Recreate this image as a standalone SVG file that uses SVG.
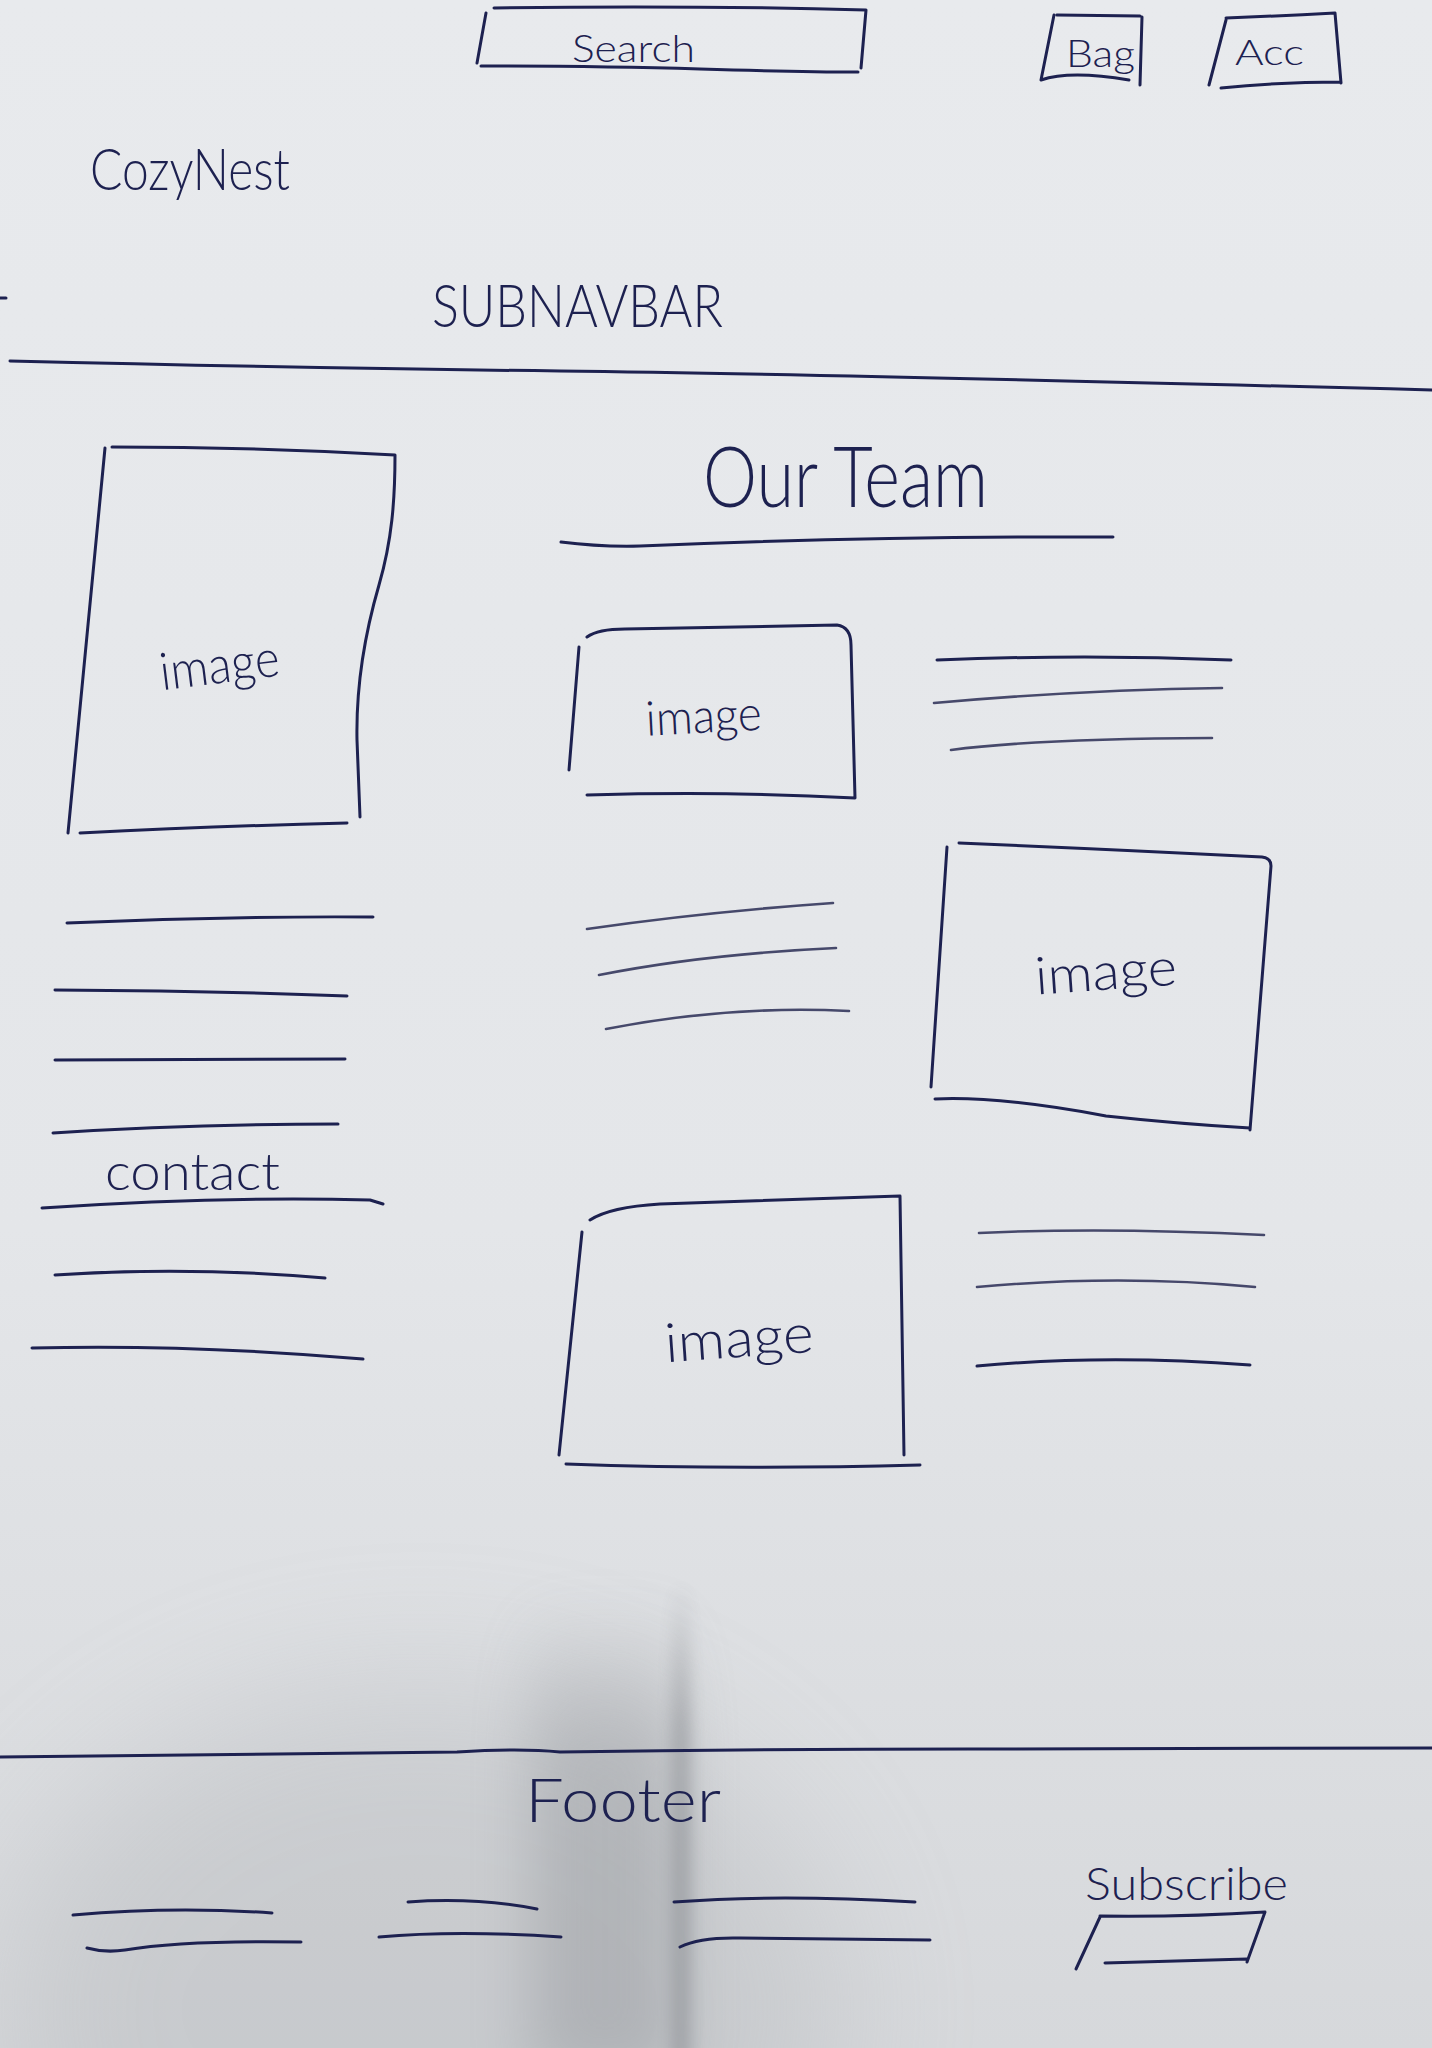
<svg xmlns="http://www.w3.org/2000/svg" width="1432" height="2048" viewBox="0 0 1432 2048">
  <defs>
    <style>
      .ink { fill: none; stroke: #1d2150; stroke-width: 3; stroke-linecap: round; stroke-linejoin: round; }
      .soft { stroke: #2a2d55; stroke-width: 2.6; opacity: 0.85; }
      .hand { font-family: Lato, "Liberation Sans", "DejaVu Sans", sans-serif; font-weight: 300; fill: #1d2150; }
    </style>
    <filter id="haze" x="-50%" y="-50%" width="200%" height="200%">
      <feGaussianBlur stdDeviation="70"/>
    </filter>
    <filter id="shade" x="-60%" y="-20%" width="220%" height="140%">
      <feGaussianBlur stdDeviation="30"/>
    </filter>
    <filter id="crease" x="-200%" y="-10%" width="500%" height="120%">
      <feGaussianBlur stdDeviation="8"/>
    </filter>
    <linearGradient id="paper" x1="0" y1="0" x2="0" y2="1">
      <stop offset="0" stop-color="#e8eaed"/>
      <stop offset="0.6" stop-color="#e4e6e9"/>
      <stop offset="1" stop-color="#d6d8db"/>
    </linearGradient>
    <linearGradient id="fade-in" x1="0" y1="0" x2="0" y2="1">
      <stop offset="0" stop-color="#7c7f84" stop-opacity="0"/>
      <stop offset="0.3" stop-color="#7c7f84" stop-opacity="1"/>
      <stop offset="1" stop-color="#7c7f84" stop-opacity="1"/>
    </linearGradient>
  </defs>

  <!-- paper -->
  <rect width="1432" height="2048" fill="url(#paper)"/>
  <!-- fold shadow near the bottom of the sheet -->
  <ellipse cx="420" cy="2010" rx="420" ry="330" fill="#a4a7ab" opacity="0.28" filter="url(#haze)"/>
  <rect x="530" y="1600" width="150" height="480" fill="url(#fade-in)" opacity="0.3" filter="url(#shade)"/>
  <rect x="672" y="1580" width="18" height="490" fill="url(#fade-in)" opacity="0.45" filter="url(#crease)"/>

  <!-- header: search field -->
  <g id="search">
    <path class="ink" d="M494,8 Q680,5 866,10 M486,13 L477,63 M481,66 Q600,66 700,69 T858,72 M866,10 L861,68"/>
    <text class="hand" x="572" y="62" font-size="38" textLength="123" lengthAdjust="spacingAndGlyphs">Search</text>
  </g>

  <!-- header: bag button -->
  <g id="bag">
    <path class="ink" d="M1057,15 L1140,16 M1054,15 L1041,80 M1041,80 Q1070,70 1129,80 M1142,17 L1140,85"/>
    <text class="hand" x="1066" y="67" font-size="38" textLength="69" lengthAdjust="spacingAndGlyphs">Bag</text>
  </g>

  <!-- header: account button -->
  <g id="account">
    <path class="ink" d="M1226,18 Q1280,16 1335,13 L1341,83 M1226,20 L1209,85 M1221,88 Q1280,82 1341,82"/>
    <text class="hand" x="1235" y="65" font-size="36" textLength="69" lengthAdjust="spacingAndGlyphs">Acc</text>
  </g>

  <!-- logo -->
  <g id="logo">
    <text class="hand" x="90" y="190" font-size="58" textLength="200" lengthAdjust="spacingAndGlyphs">CozyNest</text>
  </g>

  <!-- sub navigation -->
  <g id="subnavbar">
    <text class="hand" x="432" y="327" font-size="60" textLength="291" lengthAdjust="spacingAndGlyphs">SUBNAVBAR</text>
  </g>

  <!-- dividers -->
  <g id="dividers">
    <path class="ink" d="M0,298 L6,298"/>
    <path class="ink" d="M10,361 Q300,368 560,371 T1432,390"/>
    <path class="ink" d="M0,1757 Q230,1754 457,1752 Q520,1748 560,1752 Q760,1749 968,1749 T1432,1748"/>
  </g>

  <!-- left column: large image -->
  <g id="hero-image">
    <path class="ink" d="M112,447 Q250,447 395,455 C395,500 392,540 379,585 C363,640 356,690 357,740 L360,817 M105,448 L68,833 M80,833 Q220,826 347,823"/>
    <text class="hand" x="160" y="683" font-size="52" textLength="120" lengthAdjust="spacingAndGlyphs" transform="rotate(-7 220 670)">image</text>
  </g>

  <!-- left column: text lines -->
  <g id="left-text">
    <path class="ink" d="M67,923 Q220,916 373,917"/>
    <path class="ink" d="M55,990 Q220,991 347,996"/>
    <path class="ink" d="M55,1060 L345,1059"/>
    <path class="ink" d="M53,1133 Q187,1124 338,1124"/>
  </g>

  <!-- left column: contact -->
  <g id="contact">
    <text class="hand" x="105" y="1190" font-size="52" textLength="175" lengthAdjust="spacingAndGlyphs">contact</text>
    <path class="ink" d="M42,1208 Q220,1196 370,1200 L383,1204"/>
    <path class="ink" d="M55,1275 Q187,1266 325,1278"/>
    <path class="ink" d="M32,1348 Q187,1344 363,1359"/>
  </g>

  <!-- team section title -->
  <g id="team-title">
    <text class="hand" x="703" y="507" font-size="84" textLength="285" lengthAdjust="spacingAndGlyphs">Our Team</text>
    <path class="ink" d="M561,542 Q600,547 640,546 Q870,536 1113,537"/>
  </g>

  <!-- team member 1 -->
  <g id="member-1-image">
    <path class="ink" d="M587,637 Q598,629 625,629 L837,625 Q851,627 851,645 L855,798 M579,647 L569,770 M587,795 Q729,791 855,798"/>
    <text class="hand" x="646" y="733" font-size="48" textLength="116" lengthAdjust="spacingAndGlyphs" transform="rotate(-3 700 725)">image</text>
  </g>
  <g id="member-1-text">
    <path class="ink" d="M937,660 Q1085,654 1231,660"/>
    <path class="ink soft" d="M934,703 Q1080,690 1222,688"/>
    <path class="ink soft" d="M951,750 Q1030,739 1212,738"/>
  </g>

  <!-- team member 2 -->
  <g id="member-2-text">
    <path class="ink soft" d="M587,929 Q705,912 833,903"/>
    <path class="ink soft" d="M599,975 Q705,954 836,948"/>
    <path class="ink soft" d="M606,1029 Q729,1005 849,1011"/>
  </g>
  <g id="member-2-image">
    <path class="ink" d="M959,843 Q1106,849 1262,857 Q1271,858 1271,866 L1250,1130 M947,847 L931,1087 M935,1099 Q1000,1096 1106,1116 Q1180,1124 1250,1128"/>
    <text class="hand" x="1035" y="990" font-size="52" textLength="142" lengthAdjust="spacingAndGlyphs" transform="rotate(-4 1100 975)">image</text>
  </g>

  <!-- team member 3 -->
  <g id="member-3-image">
    <path class="ink" d="M590,1220 Q610,1207 660,1204 L900,1196 L904,1455 M582,1232 L559,1455 M566,1464 Q729,1470 920,1465"/>
    <text class="hand" x="665" y="1357" font-size="54" textLength="149" lengthAdjust="spacingAndGlyphs" transform="rotate(-4 740 1345)">image</text>
  </g>
  <g id="member-3-text">
    <path class="ink soft" d="M979,1233 Q1106,1227 1264,1235"/>
    <path class="ink soft" d="M977,1287 Q1120,1274 1255,1287"/>
    <path class="ink" d="M977,1366 Q1106,1354 1250,1365"/>
  </g>

  <!-- footer -->
  <g id="footer-title">
    <text class="hand" x="525" y="1822" font-size="62" textLength="196" lengthAdjust="spacingAndGlyphs">Footer</text>
  </g>
  <g id="footer-links">
    <path class="ink" d="M73,1915 Q174,1906 272,1913"/>
    <path class="ink" d="M87,1948 Q105,1953 125,1950 Q183,1940 301,1942"/>
    <path class="ink" d="M408,1902 Q475,1897 537,1909"/>
    <path class="ink" d="M379,1937 Q457,1930 561,1937"/>
    <path class="ink" d="M674,1902 Q776,1894 915,1902"/>
    <path class="ink" d="M680,1947 Q700,1937 740,1938 L930,1940"/>
  </g>
  <g id="subscribe">
    <text class="hand" x="1085" y="1900" font-size="46" textLength="203" lengthAdjust="spacingAndGlyphs">Subscribe</text>
    <path class="ink" d="M1100,1916 Q1187,1917 1265,1912 L1247,1962 M1100,1917 L1076,1969 M1105,1963 Q1180,1961 1247,1959"/>
  </g>
</svg>
